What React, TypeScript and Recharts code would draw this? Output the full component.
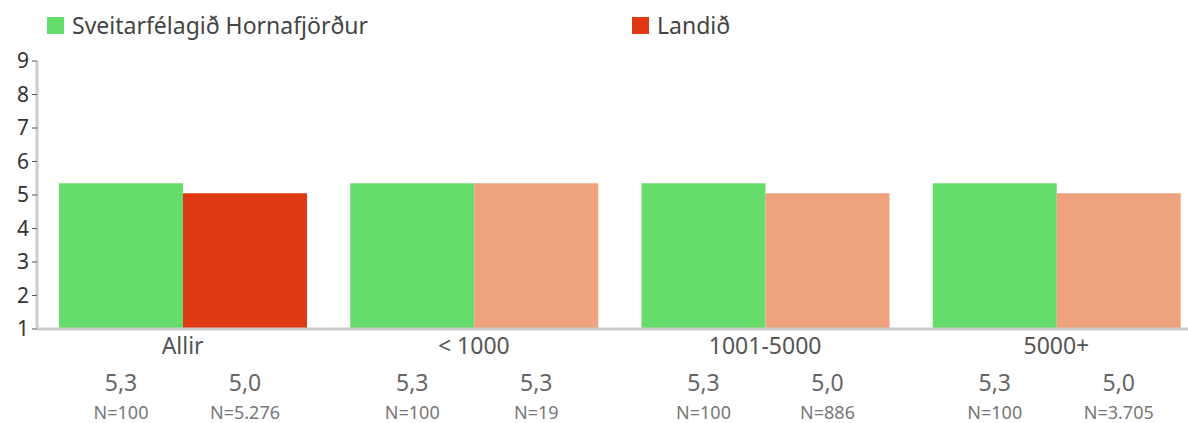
import { BarChart, Bar, XAxis, YAxis, Legend, Cell, LabelList } from "recharts"

const categories = ["Allir", "< 1000", "1001-5000", "5000+"]
const sveitarfelag = [5.35, 5.35, 5.35, 5.35]
const landid = [5.05, 5.35, 5.05, 5.05]
const sveitarfelagLabels = ["5,3", "5,3", "5,3", "5,3"]
const landidLabels = ["5,0", "5,3", "5,0", "5,0"]
const sveitarfelagN = ["N=100", "N=100", "N=100", "N=100"]
const landidN = ["N=5.276", "N=19", "N=886", "N=3.705"]
const yTicks = [1, 2, 3, 4, 5, 6, 7, 8, 9]

const GREEN = "#66dd6a"
const RED = "#df3a14"
const SALMON = "#eea27d"
const FONT = "'Noto Sans', sans-serif"

const data = categories.map((name, i) => ({
  name,
  sveitarfelag: sveitarfelag[i],
  landid: landid[i],
}))

const makeLabel = (values: string[], counts: string[]) => (props: any) => {
  const { x, y, width, height, index } = props
  const cx = x + width / 2
  const bottom = y + height
  return (
    <g>
      <text x={cx} y={bottom + 62} textAnchor="middle" fontSize={23} fill="#666" fontFamily={FONT}>
        {values[index]}
      </text>
      <text x={cx} y={bottom + 90} textAnchor="middle" fontSize={18} fill="#777" fontFamily={FONT}>
        {counts[index]}
      </text>
    </g>
  )
}

function LegendContent() {
  const items = [
    { label: "Sveitarfélagið Hornafjörður", color: GREEN, left: 47 },
    { label: "Landið", color: RED, left: 632 },
  ]
  return (
    <div style={{ position: "relative", height: 40, fontFamily: FONT }}>
      {items.map((it) => (
        <div key={it.label} style={{ position: "absolute", left: it.left, top: 14, display: "flex", alignItems: "center" }}>
          <span style={{ width: 17, height: 17, background: it.color, display: "inline-block", marginRight: 8 }} />
          <span style={{ fontSize: 23, color: "#444", lineHeight: "22px" }}>{it.label}</span>
        </div>
      ))}
    </div>
  )
}

export default function App() {
  return (
    <div style={{ position: "absolute", top: 0, left: 0, width: 1188, height: 423, overflow: "hidden", background: "#fff" }}>
      <BarChart
        width={1202}
        height={423}
        data={data}
        margin={{ top: 21, right: 0, left: 0, bottom: 0 }}
        barGap={0}
        barCategoryGap={22}
      >
        <Legend verticalAlign="top" content={<LegendContent />} wrapperStyle={{ top: 0, left: 0, width: 1188, height: 40 }} />
        <XAxis
          dataKey="name"
          axisLine={{ stroke: "#cccccc", strokeWidth: 3 }}
          tickLine={false}
          tick={{ fontSize: 23, fill: "#555", fontFamily: FONT }}
          tickMargin={3}
          height={94}
        />
        <YAxis
          domain={[1, 9]}
          ticks={yTicks}
          interval={0}
          width={37}
          axisLine={{ stroke: "#cccccc", strokeWidth: 3 }}
          tickLine={{ stroke: "#555", strokeWidth: 1 }}
          tickSize={5}
          tick={{ fontSize: 21, fill: "#333", fontFamily: FONT }}
          tickMargin={3}
        />
        <Bar dataKey="sveitarfelag" fill={GREEN} isAnimationActive={false}>
          <LabelList content={makeLabel(sveitarfelagLabels, sveitarfelagN)} />
        </Bar>
        <Bar dataKey="landid" fill={SALMON} isAnimationActive={false}>
          {data.map((_, i) => (
            <Cell key={i} fill={i === 0 ? RED : SALMON} />
          ))}
          <LabelList content={makeLabel(landidLabels, landidN)} />
        </Bar>
      </BarChart>
    </div>
  )
}
